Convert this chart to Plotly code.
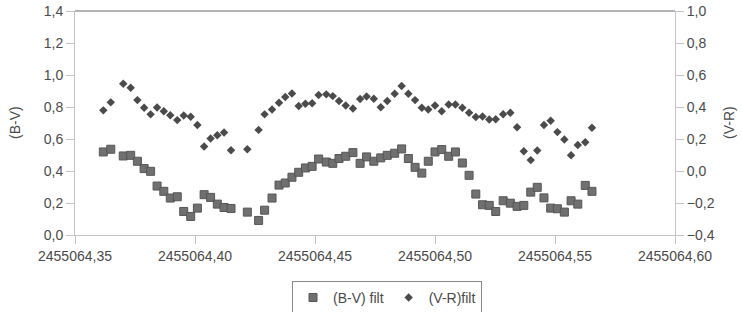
import plotly.graph_objects as go

# Julian Date of each observation
jd = [2455064.3618, 2455064.3649, 2455064.3701, 2455064.3732, 2455064.3760, 2455064.3788,
      2455064.3815, 2455064.3842, 2455064.3870, 2455064.3897, 2455064.3926, 2455064.3953,
      2455064.3982, 2455064.4010, 2455064.4038, 2455064.4065, 2455064.4093, 2455064.4121,
      2455064.4150, 2455064.4218, 2455064.4265, 2455064.4290, 2455064.4321, 2455064.4350,
      2455064.4376, 2455064.4404, 2455064.4432, 2455064.4460, 2455064.4488, 2455064.4515,
      2455064.4547, 2455064.4574, 2455064.4600, 2455064.4628, 2455064.4658, 2455064.4688,
      2455064.4715, 2455064.4745, 2455064.4774, 2455064.4801, 2455064.4832, 2455064.4861,
      2455064.4889, 2455064.4917, 2455064.4945, 2455064.4972, 2455064.5000, 2455064.5028,
      2455064.5057, 2455064.5085, 2455064.5114, 2455064.5142, 2455064.5170, 2455064.5198,
      2455064.5226, 2455064.5253, 2455064.5284, 2455064.5314, 2455064.5342, 2455064.5370,
      2455064.5399, 2455064.5426, 2455064.5454, 2455064.5482, 2455064.5510, 2455064.5539,
      2455064.5567, 2455064.5595, 2455064.5626, 2455064.5654]

bv_filt = [0.519, 0.536, 0.494, 0.498, 0.461, 0.415, 0.398, 0.306, 0.273, 0.231,
           0.239, 0.147, 0.116, 0.168, 0.252, 0.235, 0.193, 0.172, 0.166, 0.143,
           0.091, 0.155, 0.231, 0.312, 0.325, 0.361, 0.392, 0.419, 0.429, 0.475,
           0.456, 0.448, 0.478, 0.492, 0.515, 0.448, 0.488, 0.461, 0.482, 0.498,
           0.511, 0.538, 0.478, 0.423, 0.387, 0.461, 0.519, 0.534, 0.492, 0.519,
           0.450, 0.373, 0.256, 0.189, 0.185, 0.147, 0.214, 0.199, 0.179, 0.185,
           0.268, 0.298, 0.232, 0.168, 0.164, 0.143, 0.214, 0.193, 0.310, 0.273]

vr_filt = [0.379, 0.429, 0.545, 0.520, 0.443, 0.395, 0.354, 0.397, 0.374, 0.349,
           0.318, 0.347, 0.339, 0.288, 0.153, 0.203, 0.224, 0.241, 0.130, 0.136,
           0.257, 0.354, 0.385, 0.426, 0.462, 0.485, 0.406, 0.420, 0.423, 0.475,
           0.479, 0.468, 0.437, 0.410, 0.391, 0.450, 0.466, 0.451, 0.399, 0.437,
           0.483, 0.531, 0.483, 0.443, 0.395, 0.385, 0.410, 0.374, 0.416, 0.416,
           0.395, 0.364, 0.337, 0.340, 0.322, 0.323, 0.355, 0.364, 0.274, 0.124,
           0.068, 0.128, 0.288, 0.314, 0.243, 0.197, 0.098, 0.163, 0.180, 0.270]

x_ticks = [2455064.35, 2455064.40, 2455064.45, 2455064.50, 2455064.55, 2455064.60]
bv_ticks = [0.0, 0.2, 0.4, 0.6, 0.8, 1.0, 1.2, 1.4]
vr_ticks = [-0.4, -0.2, 0.0, 0.2, 0.4, 0.6, 0.8, 1.0]

FONT = "Liberation Sans, Arial, sans-serif"
TXT = "#4a4a4a"
AX = "#c4c4c4"

fig = go.Figure()
fig.add_trace(go.Scatter(
    x=jd, y=bv_filt, mode="markers", name="(B-V) filt",
    marker=dict(symbol="square", size=8, color="#707070",
                line=dict(color="#565656", width=1)),
    yaxis="y"))
fig.add_trace(go.Scatter(
    x=jd, y=vr_filt, mode="markers", name="(V-R)filt",
    marker=dict(symbol="diamond", size=6.5, color="#4b4b4b",
                line=dict(width=0)),
    yaxis="y2"))

axis_common = dict(showgrid=False, zeroline=False, showline=True, linecolor=AX, linewidth=1,
                   ticks="outside", ticklen=8, tickcolor=AX, automargin=False,
                   tickfont=dict(size=14, color=TXT))

fig.update_layout(
    width=742, height=312,
    margin=dict(l=75, r=67, t=11, b=77, autoexpand=False),
    paper_bgcolor="white", plot_bgcolor="white",
    separators=",.",
    font=dict(family=FONT, size=14, color=TXT),
    showlegend=True,
    legend=dict(orientation="h", x=0.52, xanchor="center", y=-0.205, yanchor="top",
                bordercolor="#8a8a8a", borderwidth=1, font=dict(size=14, color=TXT),
                bgcolor="white", itemwidth=30, tracegroupgap=0),
    xaxis=dict(range=[2455064.35, 2455064.60], tickvals=x_ticks, tickformat=".2f",
               **axis_common),
    yaxis=dict(range=[0, 1.4], tickvals=bv_ticks, tickformat=".1f", **axis_common),
    yaxis2=dict(range=[-0.4, 1.0], tickvals=vr_ticks, tickformat=".1f", overlaying="y",
                side="right", **axis_common),
    shapes=[dict(type="line", xref="paper", yref="paper", x0=0, x1=1, y0=1, y1=1,
                 line=dict(color="#9a9a9a", width=1.5))],
    annotations=[
        dict(text="(B-V)", xref="paper", yref="paper", x=-0.1, y=0.5, showarrow=False,
             textangle=-90, xanchor="center", yanchor="middle", font=dict(size=14, color=TXT)),
        dict(text="(V-R)", xref="paper", yref="paper", x=1.09, y=0.5, showarrow=False,
             textangle=-90, xanchor="center", yanchor="middle", font=dict(size=14, color=TXT)),
    ],
)

fig.write_html("out.html", config={"displayModeBar": False},
               post_script="document.body.style.margin='0';document.body.style.overflow='hidden';")
